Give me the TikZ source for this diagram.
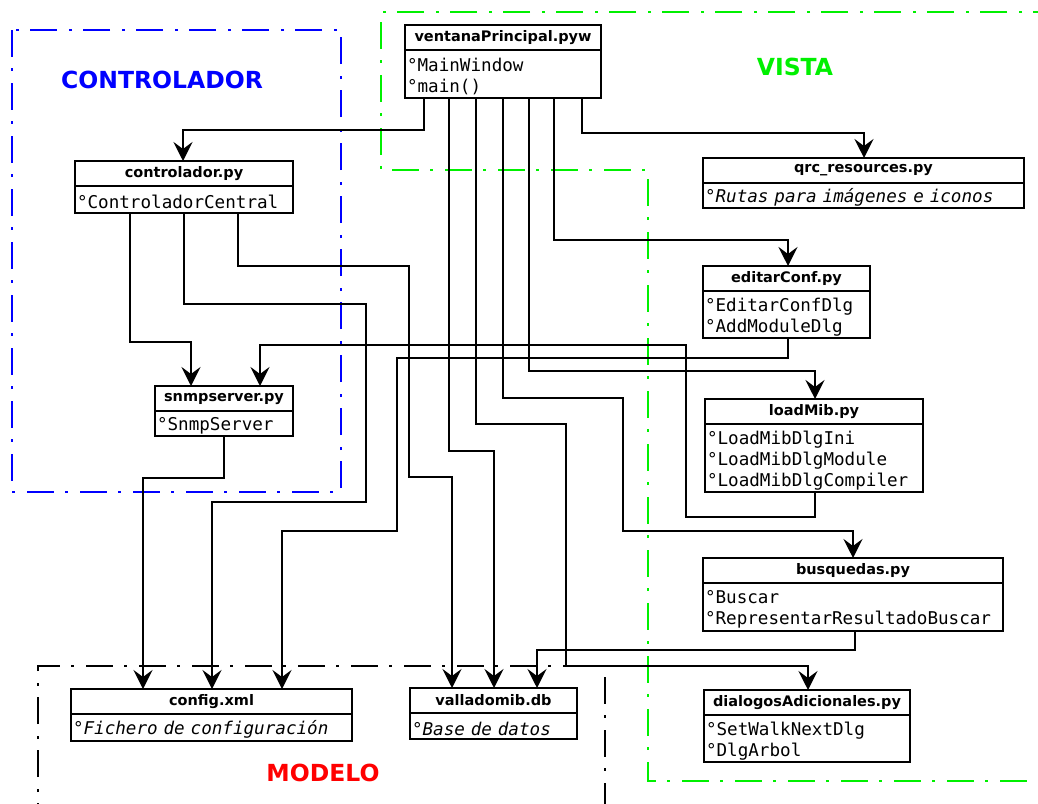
\documentclass[tikz,border=0pt]{standalone}
\usepackage{fontspec}
\usetikzlibrary{arrows.meta}
\newfontfamily\titlefam{DejaVu Sans}
\newfontfamily\monofam{DejaVu Sans Mono}
\definecolor{ctlblue}{RGB}{0,0,255}
\definecolor{vistagreen}{RGB}{0,240,0}
\definecolor{modred}{RGB}{255,0,0}

\begin{document}
\begin{tikzpicture}[x=1pt,y=-1pt,
  cls/.style={draw, line width=2.5pt, inner sep=0pt, outer sep=0pt, fill=white},
  hdr/.style={cls, anchor=north west, minimum height=25pt,
    font=\titlefam\bfseries\fontsize{14.5}{17}\selectfont},
  bdy/.style={cls, anchor=north west, align=left, inner xsep=2pt,
    font=\monofam\fontsize{17.6}{21}\selectfont,
    execute at begin node={\rule{0pt}{18.5pt}}},
  link/.style={line width=2.1pt},
  conn/.style={link, -{Stealth[length=19pt,width=19pt,inset=7pt]}},
  grp/.style={line width=2.4pt, dash pattern=on 27pt off 11pt on 3pt off 12pt},
  glabel/.style={font=\titlefam\bfseries\fontsize{23.5}{28}\selectfont}
]
\path[use as bounding box] (0,0) rectangle (1038,803);
\clip (0,0) rectangle (1038,803);

% package groups
\draw[grp, ctlblue] (12,30) rectangle (341,492);
\draw[grp, vistagreen] (1060,12) -- (381,12) -- (381,170) -- (648,170) -- (648,781) -- (1060,781);
\draw[grp, black] (38,830) -- (38,666) -- (605,666) -- (605,830);

\node[glabel, text=ctlblue] (lctl) at (162,80) {CONTROLADOR};
\node[glabel, text=vistagreen] (lvista) at (795,67) {VISTA};
\node[glabel, text=modred] (lmodelo) at (323,773) {MODELO};

% modules
\node[hdr, minimum width=196pt] (vp) at (405,25) {ventanaPrincipal.pyw};
\node[bdy, text width=192pt, minimum height=48pt] (vpb) at (vp.south west) {°MainWindow\\°main()};

\node[hdr, minimum width=218pt] (ctl) at (75,161) {controlador.py};
\node[bdy, text width=214pt, minimum height=27pt] (ctlb) at (ctl.south west) {°ControladorCentral};

\node[hdr, minimum width=138pt] (snmp) at (155,386) {snmpserver.py};
\node[bdy, text width=134pt, minimum height=25pt] (snmpb) at (snmp.south west) {°SnmpServer};

\node[hdr, minimum width=321pt] (qrc) at (703,158) {qrc\_resources.py};
\node[bdy, text width=317pt, minimum height=25pt] (qrcb) at (qrc.south west) {\itshape °Rutas para imágenes e iconos};

\node[hdr, minimum width=167pt] (edc) at (703,266) {editarConf.py};
\node[bdy, text width=163pt, minimum height=47pt] (edcb) at (edc.south west) {°EditarConfDlg\\°AddModuleDlg};

\node[hdr, minimum width=218pt] (lmb) at (705,399) {loadMib.py};
\node[bdy, text width=214pt, minimum height=68pt] (lmbb) at (lmb.south west) {°LoadMibDlgIni\\°LoadMibDlgModule\\°LoadMibDlgCompiler};

\node[hdr, minimum width=300pt] (bsq) at (703,558) {busquedas.py};
\node[bdy, text width=296pt, minimum height=48pt] (bsqb) at (bsq.south west) {°Buscar\\°RepresentarResultadoBuscar};

\node[hdr, minimum width=206pt] (dlg) at (704,690) {dialogosAdicionales.py};
\node[bdy, text width=202pt, minimum height=47pt] (dlgb) at (dlg.south west) {°SetWalkNextDlg\\°DlgArbol};

\node[hdr, minimum width=281pt] (cfg) at (71,689) {config.xml};
\node[bdy, text width=277pt, minimum height=27pt] (cfgb) at (cfg.south west) {\itshape °Fichero de configuración};

\node[hdr, minimum width=167pt] (vdb) at (410,688) {valladomib.db};
\node[bdy, text width=163pt, minimum height=26pt] (vdbb) at (vdb.south west) {\itshape °Base de datos};

% dependencies of ventanaPrincipal.pyw
\draw[conn] ([xshift=19pt]vpb.south west) -- ++(0,32) -| ([xshift=108pt]ctl.north west);
\draw[conn] ([xshift=177pt]vpb.south west) -- ++(0,35) -| ([xshift=161pt]qrc.north west);
\draw[conn] ([xshift=149pt]vpb.south west) -- ++(0,142) -| ([xshift=85pt]edc.north west);
\draw[conn] ([xshift=124pt]vpb.south west) -- ++(0,273) -| ([xshift=110pt]lmb.north west);
\draw[conn] ([xshift=98pt]vpb.south west) -- ++(0,300) -| (623,531) -| ([xshift=150pt]bsq.north west);
\draw[conn] ([xshift=71pt]vpb.south west) -- ++(0,326) -| (566,666) -| ([xshift=104pt]dlg.north west);
\draw[conn] ([xshift=44pt]vpb.south west) -- ++(0,353) -| ([xshift=84pt]vdb.north west);

% dependencies of controlador.py
\draw[conn] ([xshift=55pt]ctlb.south west) -- ++(0,129) -| ([xshift=36pt]snmp.north west);
\draw[conn] ([xshift=109pt]ctlb.south west) -- ++(0,91) -| (366,502) -| ([xshift=141pt]cfg.north west);
\draw[conn] ([xshift=163pt]ctlb.south west) -- ++(0,53) -| (409,477) -| ([xshift=42pt]vdb.north west);

% remaining dependencies
\draw[conn] ([xshift=69pt]snmpb.south west) -- ++(0,42) -| ([xshift=72pt]cfg.north west);
\draw[conn] ([xshift=85pt]edcb.south west) -- ++(0,20) -| (397,531) -| ([xshift=211pt]cfg.north west);
\draw[conn] ([xshift=110pt]lmbb.south west) -- ++(0,25) -| (686,345) -| ([xshift=105pt]snmp.north west);
\draw[conn] ([xshift=152pt]bsqb.south west) -- ++(0,19) -| ([xshift=127pt]vdb.north west);
\end{tikzpicture}
\end{document}
